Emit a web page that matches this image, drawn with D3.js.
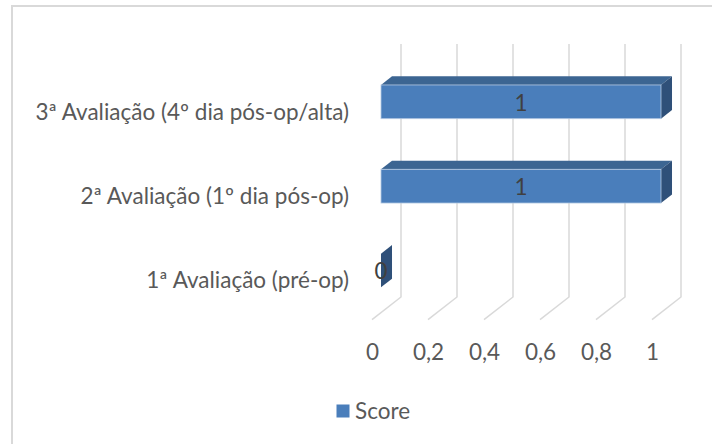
<!DOCTYPE html>
<html>
<head>
<meta charset="utf-8">
<script src="https://cdn.jsdelivr.net/npm/d3@7"></script>
<style>
  html, body { margin: 0; padding: 0; background: #fff; }
  svg { display: block; font-family: Lato, "Open Sans", sans-serif; }
</style>
</head>
<body>
<svg id="chart" width="712" height="444"></svg>
<script>
// Score per evaluation moment, top row first
const categories = [
  "3ª Avaliação (4º dia pós-op/alta)",
  "2ª Avaliação (1º dia pós-op)",
  "1ª Avaliação (pré-op)"
];
const scores = [1, 1, 0];
const tickValues = [0, 0.2, 0.4, 0.6, 0.8, 1];
const seriesName = "Score";

const fontSize = 22.5;
const svg = d3.select("#chart");

// Chart frame (only top and left edges fall inside the view)
svg.append("path")
  .attr("d", "M12,444 V6 H712")
  .attr("fill", "none")
  .attr("stroke", "#d9d9d9")
  .attr("stroke-width", 2);

// Front plane of the 3-D plot area, and the depth vector to the back wall
const x = d3.scaleLinear().domain([0, 1]).range([372, 652]);
const y = d3.scaleBand().domain(categories).range([66.7, 319.7]).paddingInner(0).paddingOuter(0);
const depth = { dx: 29, dy: -22.7 };
const barDepthStart = 0.31, barDepthEnd = 0.69;
const barThickness = y.bandwidth() / 2.5;

const comma = d3.formatLocale({ decimal: ",", thousands: ".", grouping: [3], currency: ["", ""] });
const fmt = v => comma.format("~g")(v);

// Back-wall gridlines and their floor continuation
const grid = svg.append("g").attr("stroke", "#d9d9d9").attr("stroke-width", 1.5).attr("fill", "none");
const yTop = y.range()[0] + depth.dy;
const yFloor = y.range()[1];
tickValues.forEach(t => {
  const bx = x(t) + depth.dx, by = yFloor + depth.dy;
  grid.append("path")
    .attr("d", `M${bx},${yTop} V${by} L${x(t)},${yFloor}`);
});

// Bars: front, top and side faces
const bars = svg.append("g");
const ox = depth.dx * barDepthStart, oy = depth.dy * barDepthStart;
const ddx = depth.dx * (barDepthEnd - barDepthStart), ddy = depth.dy * (barDepthEnd - barDepthStart);

categories.forEach((c, i) => {
  const v = scores[i];
  const x0 = x(0) + ox, x1 = x(v) + ox;
  const yc = y(c) + y.bandwidth() / 2 + oy;
  const y0 = yc - barThickness / 2, y1 = yc + barThickness / 2;
  const g = bars.append("g");
  if (x1 - x0 > 0.5) {
    g.append("path")
      .attr("d", `M${x0},${y0} L${x0 + ddx},${y0 + ddy} L${x1 + ddx},${y0 + ddy} L${x1},${y0} Z`)
      .attr("fill", "#3c6592");
  }
  g.append("path")
    .attr("d", `M${x1},${y0} L${x1 + ddx},${y0 + ddy} L${x1 + ddx},${y1 + ddy} L${x1},${y1} Z`)
    .attr("fill", "#2f5079");
  if (x1 - x0 > 0.5) {
    g.append("rect")
      .attr("x", x0).attr("y", y0)
      .attr("width", x1 - x0).attr("height", y1 - y0)
      .attr("fill", "#4a7ebb")
      .attr("stroke", "#b7cbe4").attr("stroke-width", 0.8);
  }
  // value label
  g.append("text")
    .attr("x", (x0 + x1) / 2)
    .attr("y", yc + 1)
    .attr("dy", "0.35em")
    .attr("text-anchor", "middle")
    .attr("fill", "#404040")
    .attr("font-size", fontSize)
    .text(fmt(v));
});

// Category labels
svg.append("g").selectAll("text")
  .data(categories)
  .join("text")
  .attr("x", 349)
  .attr("y", d => y(d) + y.bandwidth() / 2 + 3)
  .attr("dy", "0.35em")
  .attr("text-anchor", "end")
  .attr("fill", "#595959")
  .attr("font-size", fontSize)
  .text(d => d);

// Value axis labels
const axis = d3.axisBottom(x).tickValues(tickValues).tickSize(0).tickPadding(0).tickFormat(fmt);
const ax = svg.append("g").attr("transform", "translate(0,352)").call(axis);
ax.select(".domain").remove();
ax.selectAll("text")
  .attr("y", 0)
  .attr("dy", "0.35em")
  .attr("fill", "#595959")
  .attr("font-size", fontSize)
  .attr("font-family", "Lato, \"Open Sans\", sans-serif");

// Legend
const legend = svg.append("g");
legend.append("rect")
  .attr("x", 336.5).attr("y", 404.5)
  .attr("width", 13).attr("height", 13)
  .attr("fill", "#4a7ebb");
legend.append("text")
  .attr("x", 355).attr("y", 411)
  .attr("dy", "0.35em")
  .attr("fill", "#595959")
  .attr("font-size", fontSize)
  .text(seriesName);
</script>
</body>
</html>
